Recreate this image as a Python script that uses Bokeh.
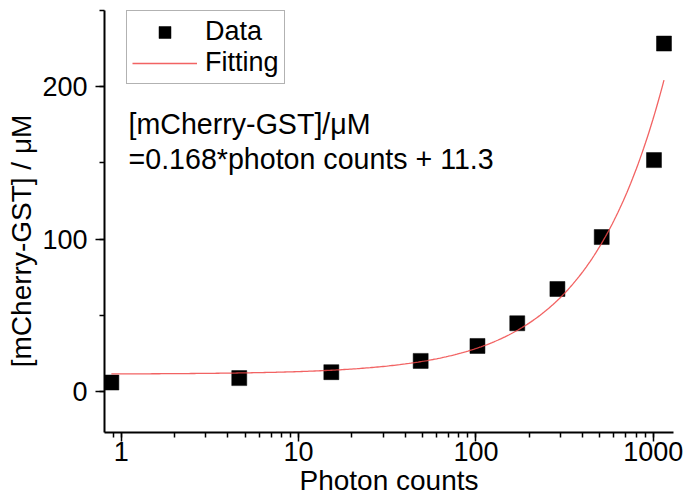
import numpy as np
from bokeh.plotting import figure
from bokeh.models import (Range1d, LogTicker, SingleIntervalTicker, Legend, LegendItem,
                          Label, ColumnDataSource, NumeralTickFormatter)
from bokeh.embed import file_html
from bokeh.resources import INLINE

# Measured data
photon_counts = [0.88, 4.63, 15.3, 48.8, 102, 171, 288, 512, 1009, 1149]
concentration = [5.8, 8.7, 12.6, 20.0, 29.8, 44.7, 67.2, 101.3, 151.8, 228.3]

# Linear fit: [mCherry-GST]/uM = 0.168 * photon counts + 11.3
SLOPE = 0.168
INTERCEPT = 11.3

x_ticks = [1, 10, 100, 1000]
y_ticks = [0, 100, 200]

FONT = "Liberation Sans"
TICK_FS = "27px"
TEXT_FS = "28px"
EQ_FS = "28.6px"

p = figure(width=684, height=500, x_axis_type="log",
           x_range=Range1d(0.805, 1300), y_range=Range1d(-27, 250),
           output_backend="svg", toolbar_location=None,
           min_border_left=104, min_border_right=11,
           min_border_top=10, min_border_bottom=68)
p.outline_line_color = None
p.grid.visible = False
p.background_fill_color = "white"
p.border_fill_color = "white"

# axes
p.xaxis.ticker = LogTicker(desired_num_ticks=4, num_minor_ticks=10)
p.xaxis.formatter = NumeralTickFormatter(format="0")
p.yaxis.ticker = SingleIntervalTicker(interval=100, num_minor_ticks=2)
for ax in (p.xaxis[0], p.yaxis[0]):
    ax.axis_line_width = 2
    ax.axis_line_color = "black"
    ax.major_tick_line_width = 1.5
    ax.minor_tick_line_width = 1.5
    ax.major_tick_in = 0
    ax.minor_tick_in = 0
    ax.major_tick_out = 9
    ax.minor_tick_out = 5
    ax.major_label_text_font = FONT
    ax.major_label_text_font_size = TICK_FS
    ax.major_label_text_color = "black"
    ax.axis_label_text_font = FONT
    ax.axis_label_text_font_size = TEXT_FS
    ax.axis_label_text_font_style = "normal"
    ax.axis_label_text_color = "black"
p.xaxis.major_label_standoff = 0
p.xaxis.axis_label_standoff = 1
p.yaxis.major_label_standoff = 8
p.yaxis.axis_label_standoff = 2
p.xaxis.axis_label = "Photon counts"
# trailing no-break spaces nudge the rotated title toward the bottom of the axis
p.yaxis.axis_label = "[mCherry-GST] / μM" + "\u00a0" * 5

src = ColumnDataSource(dict(x=photon_counts, y=concentration))
pts = p.scatter("x", "y", source=src, marker="square", size=15,
                fill_color="black", line_color="black", line_width=0.5)

x_fit = np.logspace(np.log10(photon_counts[0]), np.log10(photon_counts[-1]), 300)
y_fit = SLOPE * x_fit + INTERCEPT
fit = p.line(x_fit, y_fit, line_color="#f04848", line_width=1.3, line_alpha=0.85)

legend = Legend(items=[LegendItem(label="Data", renderers=[pts]),
                       LegendItem(label="Fitting", renderers=[fit])],
                location=(22, 348), orientation="vertical",
                label_text_font=FONT, label_text_font_size=TICK_FS,
                label_text_color="black",
                glyph_width=65, glyph_height=30, label_height=30,
                label_standoff=8, spacing=0, padding=5, margin=0,
                border_line_color="#666666", border_line_width=1,
                background_fill_alpha=1)
p.add_layout(legend, "center")

eq1 = Label(x=1.10, y=175.6, text="[mCherry-GST]/μM", text_font=FONT,
            text_font_size=EQ_FS, text_color="black", text_baseline="alphabetic")
eq2 = Label(x=1.10, y=152.6,
            text=f"={SLOPE}*photon counts + {INTERCEPT}", text_font=FONT,
            text_font_size=EQ_FS, text_color="black", text_baseline="alphabetic")
p.add_layout(eq1)
p.add_layout(eq2)

open("out.html", "w").write(file_html(p, INLINE))
